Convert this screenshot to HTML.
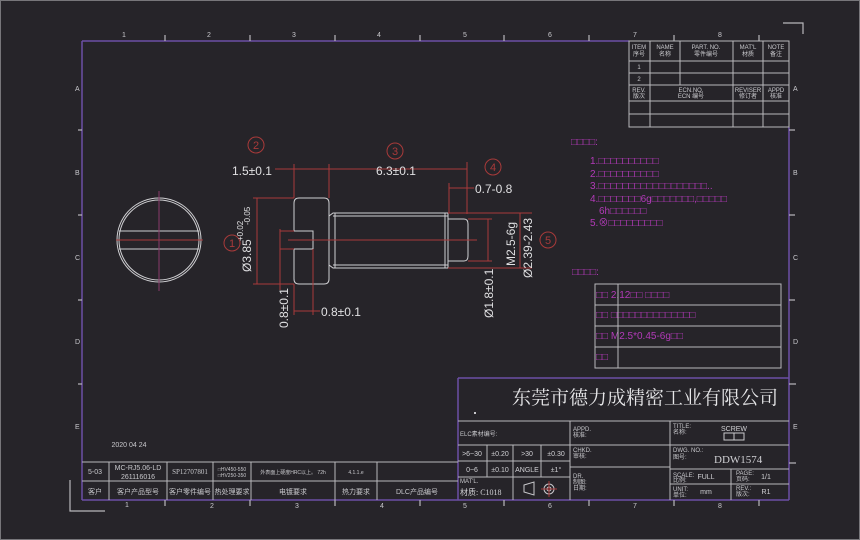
<!DOCTYPE html>
<html><head><meta charset="utf-8"><style>
html,body{margin:0;padding:0;background:#262429;}
svg{display:block;font-family:"Liberation Sans","Noto Sans CJK SC",sans-serif;}
</style></head><body>
<svg width="860" height="540" viewBox="0 0 860 540" xmlns="http://www.w3.org/2000/svg">
<rect x="0.5" y="0.5" width="859" height="539" fill="#262429" stroke="#77767a"/>
<!-- frame -->
<g fill="none" stroke="#6b4fa6" stroke-width="1.5">
<line x1="82" y1="41" x2="629" y2="41"/>
<line x1="82" y1="41" x2="82" y2="500"/>
<line x1="82" y1="500" x2="789" y2="500"/>
<line x1="789" y1="127" x2="789" y2="500"/>
<line x1="458" y1="378" x2="789" y2="378"/>
<line x1="458" y1="378" x2="458" y2="500"/>
</g>
<g stroke="#b8b8bc" stroke-width="1.2">
<line x1="165" y1="35" x2="165" y2="41"/><line x1="250" y1="35" x2="250" y2="41"/><line x1="335" y1="35" x2="335" y2="41"/><line x1="420" y1="35" x2="420" y2="41"/><line x1="504" y1="35" x2="504" y2="41"/><line x1="589" y1="35" x2="589" y2="41"/><line x1="674" y1="35" x2="674" y2="41"/><line x1="759" y1="35" x2="759" y2="41"/>
<line x1="165" y1="500" x2="165" y2="506"/><line x1="250" y1="500" x2="250" y2="506"/><line x1="335" y1="500" x2="335" y2="506"/><line x1="420" y1="500" x2="420" y2="506"/><line x1="504" y1="500" x2="504" y2="506"/><line x1="589" y1="500" x2="589" y2="506"/><line x1="674" y1="500" x2="674" y2="506"/><line x1="759" y1="500" x2="759" y2="506"/>
<line x1="78" y1="130" x2="82" y2="130"/><line x1="78" y1="215" x2="82" y2="215"/><line x1="78" y1="300" x2="82" y2="300"/><line x1="78" y1="384" x2="82" y2="384"/>
<line x1="789" y1="130" x2="795" y2="130"/><line x1="789" y1="215" x2="795" y2="215"/><line x1="789" y1="300" x2="795" y2="300"/><line x1="789" y1="384" x2="796" y2="384"/><line x1="789" y1="463" x2="796" y2="463"/>
<polyline points="70,480 70,511 105,511" fill="none"/>
<polyline points="783,23 803,23 803,34" fill="none"/>
</g>
<g fill="#c8c8cc" font-size="7">
<text x="122" y="37">1</text><text x="207" y="37">2</text><text x="292" y="37">3</text><text x="377" y="37">4</text><text x="463" y="37">5</text><text x="548" y="37">6</text><text x="633" y="37">7</text><text x="718" y="37">8</text>
<text x="125" y="507">1</text><text x="210" y="508">2</text><text x="295" y="508">3</text><text x="380" y="508">4</text><text x="463" y="508">5</text><text x="548" y="508">6</text><text x="633" y="508">7</text><text x="718" y="508">8</text>
<text x="75" y="91">A</text><text x="75" y="175">B</text><text x="75" y="260">C</text><text x="75" y="344">D</text><text x="75" y="429">E</text>
<text x="793" y="91">A</text><text x="793" y="175">B</text><text x="793" y="260">C</text><text x="793" y="344">D</text><text x="793" y="429">E</text>
</g>
<!-- parts table -->
<g stroke="#b8b8bc" stroke-width="1" fill="none">
<rect x="629" y="41" width="160" height="86"/>
<line x1="629" y1="61" x2="789" y2="61"/><line x1="629" y1="73" x2="789" y2="73"/><line x1="629" y1="85" x2="789" y2="85"/><line x1="629" y1="101" x2="789" y2="101"/><line x1="629" y1="114" x2="789" y2="114"/>
<line x1="650" y1="41" x2="650" y2="127"/><line x1="680" y1="41" x2="680" y2="85"/><line x1="733" y1="41" x2="733" y2="127"/><line x1="763" y1="41" x2="763" y2="127"/>
</g>
<g fill="#c8c8cc" font-size="6" text-anchor="middle">
<text x="639" y="49">ITEM</text><text x="639" y="56">序号</text>
<text x="665" y="49">NAME</text><text x="665" y="56">名称</text>
<text x="706" y="49">PART. NO.</text><text x="706" y="56">零件编号</text>
<text x="748" y="49">MAT'L</text><text x="748" y="56">材质</text>
<text x="776" y="49">NOTE</text><text x="776" y="56">备注</text>
<text x="639" y="69">1</text><text x="639" y="81">2</text>
<text x="639" y="92">REV.</text><text x="639" y="98">版次</text>
<text x="691" y="92">ECN.NO.</text><text x="691" y="98">ECN 编号</text>
<text x="748" y="92">REVISER</text><text x="748" y="98">修订者</text>
<text x="776" y="92">APPD</text><text x="776" y="98">核准</text>
</g>
<!-- end view -->
<g fill="none" stroke="#cfcfd2" stroke-width="1">
<circle cx="159" cy="240" r="42"/><circle cx="159" cy="240" r="40"/>
<line x1="119" y1="231" x2="199" y2="231"/><line x1="119" y1="249" x2="199" y2="249"/>
</g>
<g stroke="#a83a3a" stroke-width="1">
<line x1="116" y1="240" x2="203" y2="240"/><line x1="159" y1="191" x2="159" y2="291" stroke="#8a3a6a"/>
</g>
<!-- side view -->
<g fill="none" stroke="#cfcfd2" stroke-width="1">
<path d="M299,198 H324 Q329,198 329,203 V279 Q329,284 324,284 H299 Q294,284 294,279 V249 H313 V231 H294 V203 Q294,198 299,198 Z"/>
<path d="M329,216 L333,213 H448 V268 H333 L329,265"/>
<line x1="333" y1="216" x2="448" y2="216"/><line x1="333" y1="265" x2="448" y2="265"/>
<line x1="335" y1="213" x2="335" y2="268"/><line x1="445" y1="213" x2="445" y2="268"/>
<path d="M448,219 H464 Q468,219 468,224 V256 Q468,261 464,261 H448"/>
</g>
<g stroke="#a83a3a" stroke-width="1" fill="none">
<line x1="288" y1="240" x2="477" y2="240"/>
<line x1="275" y1="169" x2="467" y2="169"/>
<line x1="294" y1="164" x2="294" y2="198"/><line x1="329" y1="164" x2="329" y2="198"/><line x1="467" y1="162" x2="467" y2="214"/>
<line x1="449" y1="183" x2="449" y2="213"/><line x1="449" y1="188" x2="474" y2="188"/>
<line x1="253" y1="198" x2="294" y2="198"/><line x1="253" y1="284" x2="294" y2="284"/><line x1="257" y1="198" x2="257" y2="284"/>
<line x1="280" y1="231" x2="294" y2="231"/><line x1="280" y1="249" x2="294" y2="249"/><line x1="280" y1="229" x2="280" y2="290"/>
<line x1="294" y1="284" x2="294" y2="315"/><line x1="313" y1="249" x2="313" y2="315"/><line x1="294" y1="311" x2="320" y2="311"/>
<line x1="448" y1="213" x2="532" y2="213"/><line x1="448" y1="268" x2="532" y2="268"/>
<line x1="468" y1="219" x2="492" y2="219"/><line x1="468" y1="261" x2="492" y2="261"/><line x1="488" y1="219" x2="488" y2="261"/>
<line x1="520" y1="213" x2="520" y2="268"/>
</g>
<g fill="#a83a3a" font-size="11" text-anchor="middle">
<circle cx="256" cy="145" r="8" fill="none" stroke="#a83a3a"/><text x="256" y="149">2</text>
<circle cx="395" cy="151" r="8" fill="none" stroke="#a83a3a"/><text x="395" y="155">3</text>
<circle cx="493" cy="167" r="8" fill="none" stroke="#a83a3a"/><text x="493" y="171">4</text>
<circle cx="548" cy="240" r="8" fill="none" stroke="#a83a3a"/><text x="548" y="244">5</text>
<circle cx="232" cy="243" r="8" fill="none" stroke="#a83a3a"/><text x="232" y="247">1</text>
</g>
<g fill="#e0e0e2" font-size="12">
<text x="232" y="175">1.5±0.1</text>
<text x="376" y="175">6.3±0.1</text>
<text x="475" y="193">0.7-0.8</text>
<text x="321" y="316">0.8±0.1</text>
<text transform="translate(251,272) rotate(-90)">Ø3.85</text>
<text font-size="8" transform="translate(243,241) rotate(-90)">+0.02</text>
<text font-size="8" transform="translate(250,225) rotate(-90)">-0.05</text>
<text transform="translate(288,328) rotate(-90)">0.8±0.1</text>
<text transform="translate(493,318) rotate(-90)">Ø1.8±0.1</text>
<text transform="translate(515,266) rotate(-90)">M2.5-6g</text>
<text transform="translate(532,278) rotate(-90)">Ø2.39-2.43</text>
</g>
<!-- notes -->
<g fill="#b23ab8" font-size="10">
<text x="571" y="145">□□□□:</text>
<text x="590" y="164">1.□□□□□□□□□□</text>
<text x="590" y="177">2.□□□□□□□□□□</text>
<text x="590" y="189">3.□□□□□□□□□□□□□□□□□□..</text>
<text x="590" y="202">4.□□□□□□□6g□□□□□□□,□□□□□</text>
<text x="599" y="214">6h□□□□□□</text>
<text x="590" y="226">5.⊗□□□□□□□□□</text>
<text x="572" y="275">□□□□:</text>
<text x="596" y="298">□□ 2.12□□  □□□□</text>
<text x="596" y="318">□□ □□□□□□□□□□□□□□</text>
<text x="596" y="339">□□ M2.5*0.45-6g□□</text>
<text x="596" y="360">□□</text>
</g>
<g stroke="#b8b8bc" fill="none">
<rect x="595" y="284" width="186" height="84"/>
<line x1="595" y1="305" x2="781" y2="305"/><line x1="595" y1="326" x2="781" y2="326"/><line x1="595" y1="347" x2="781" y2="347"/>
<line x1="618" y1="284" x2="618" y2="368"/>
</g>
<!-- title block -->
<g stroke="#b8b8bc" fill="none">
<line x1="458" y1="421" x2="789" y2="421"/><line x1="458" y1="445" x2="789" y2="445"/>
<line x1="458" y1="461" x2="570" y2="461"/><line x1="458" y1="477" x2="570" y2="477"/>
<line x1="570" y1="467" x2="670" y2="467"/>
<line x1="670" y1="469" x2="789" y2="469"/><line x1="670" y1="484" x2="789" y2="484"/>
<line x1="570" y1="421" x2="570" y2="500"/><line x1="670" y1="421" x2="670" y2="500"/><line x1="731" y1="469" x2="731" y2="500"/>
<line x1="487" y1="445" x2="487" y2="477"/><line x1="513" y1="445" x2="513" y2="500"/><line x1="541" y1="445" x2="541" y2="477"/>
<line x1="82" y1="462" x2="458" y2="462"/><line x1="82" y1="481" x2="458" y2="481"/>
<line x1="109" y1="462" x2="109" y2="500"/><line x1="167" y1="462" x2="167" y2="500"/><line x1="213" y1="462" x2="213" y2="500"/><line x1="251" y1="462" x2="251" y2="500"/><line x1="335" y1="462" x2="335" y2="500"/><line x1="377" y1="462" x2="377" y2="500"/>
</g>
<text x="778" y="404" fill="#e6e6e8" font-size="19" text-anchor="end" font-family="'Noto Serif CJK SC','Liberation Serif',serif">东莞市德力成精密工业有限公司</text>
<g fill="#c8c8cc" font-size="6">
<text x="460" y="436">ELC素材编号:</text>
<text x="573" y="431">APPD.</text><text x="573" y="437">核准:</text>
<text x="573" y="452">CHKD.</text><text x="573" y="458">审核:</text>
<text x="573" y="478">DR.</text><text x="573" y="484">制图:</text><text x="573" y="490">日期:</text>
<text x="673" y="428">TITLE:</text><text x="673" y="434">名称:</text>
<text x="673" y="452">DWG. NO.:</text><text x="673" y="459">图号:</text>
<text x="673" y="477">SCALE:</text><text x="673" y="482">比例:</text>
<text x="673" y="491">UNIT:</text><text x="673" y="497">单位:</text>
<text x="736" y="475">PAGE:</text><text x="736" y="481">页码:</text>
<text x="736" y="490">REV.:</text><text x="736" y="496">版次:</text>
<text x="460" y="483">MAT'L.</text>
</g>
<g fill="#d0d0d4" font-size="7" text-anchor="middle">
<text x="472" y="456">&gt;6~30</text><text x="500" y="456">±0.20</text><text x="527" y="456">&gt;30</text><text x="556" y="456">±0.30</text>
<text x="472" y="472">0~6</text><text x="500" y="472">±0.10</text><text x="527" y="472">ANGLE</text><text x="556" y="472">±1°</text>
<text x="734" y="431">SCREW</text>
<text x="706" y="479">FULL</text><text x="766" y="479">1/1</text>
<text x="706" y="494">mm</text><text x="766" y="494">R1</text>
</g>
<rect x="724" y="433" width="20" height="7" fill="none" stroke="#c8c8cc"/><line x1="734" y1="433" x2="734" y2="440" stroke="#c8c8cc"/>
<text x="714" y="463" fill="#d0d0d4" font-size="11" font-family="'Liberation Serif',serif">DDW1574</text>
<text x="460" y="495" fill="#d0d0d4" font-size="8" font-family="'Liberation Serif','Noto Sans CJK SC',serif">材质: C1018</text>
<path d="M524,485 L534,482 V495 L524,492 Z" fill="none" stroke="#c8c8cc"/>
<circle cx="549" cy="489" r="5" fill="none" stroke="#c8c8cc"/><circle cx="549" cy="489" r="2" fill="none" stroke="#c8c8cc"/>
<line x1="541" y1="489" x2="557" y2="489" stroke="#a83a3a"/><line x1="549" y1="481" x2="549" y2="497" stroke="#a83a3a"/>
<!-- bottom left table -->
<g fill="#c8c8cc" font-size="7" text-anchor="middle">
<text x="129" y="447">2020   04   24</text>
<text x="95" y="474">5-03</text>
<text x="138" y="470">MC-RJ5.06-LD</text><text x="138" y="479">261116016</text>
<text x="190" y="474" font-family="'Liberation Serif',serif">SP12707801</text>
<text x="232" y="471" font-size="5">□HV450-550</text><text x="232" y="477" font-size="5">□HV250-350</text>
<text x="293" y="474" font-size="5">外表面上硬度HRC以上。 72h</text>
<text x="356" y="474" font-size="5">4.1.1.e</text>
<text x="95" y="494">客户</text><text x="138" y="494">客户产品型号</text><text x="190" y="494">客户零件编号</text><text x="232" y="494">热处理要求</text><text x="293" y="494">电镀要求</text><text x="356" y="494">热力要求</text><text x="417" y="494">DLC产品编号</text>
</g>
<rect x="474" y="412" width="2" height="2" fill="#c8c8cc"/>
</svg>
</body></html>
